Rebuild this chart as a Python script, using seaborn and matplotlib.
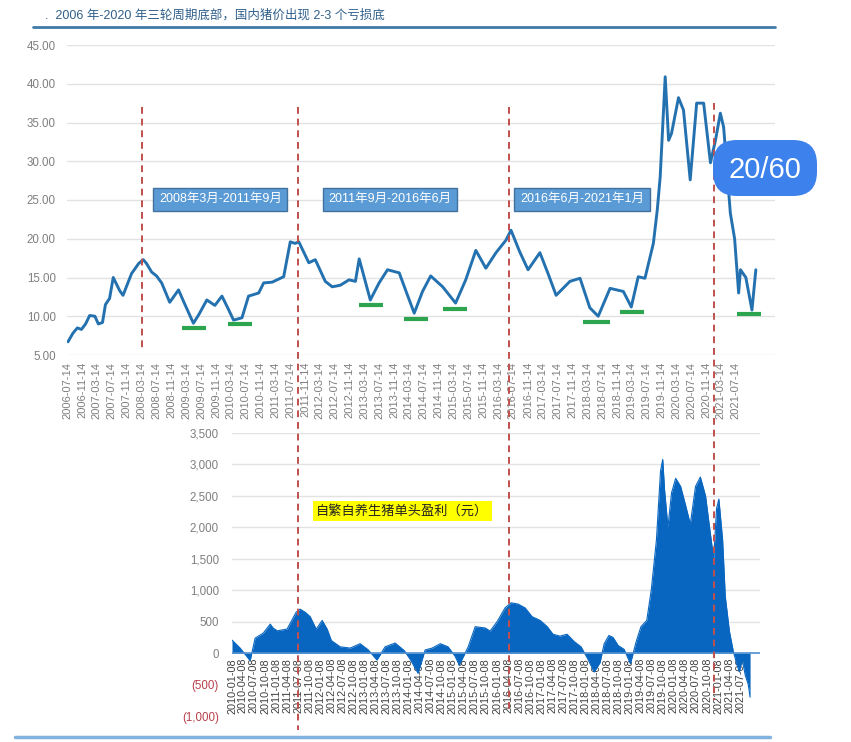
import numpy as np
import pandas as pd
import matplotlib
matplotlib.use('Agg')
import matplotlib.pyplot as plt
import matplotlib.dates as mdates
import matplotlib.transforms as mtrans
from matplotlib.lines import Line2D
from matplotlib.patches import FancyBboxPatch
import seaborn as sns

# ---------------- data ----------------
price_dates = [
    '2006-07-20', '2006-08-29', '2006-10-05', '2006-11-07', '2006-12-11', '2007-01-14',
    '2007-02-26', '2007-03-26', '2007-04-29', '2007-05-23', '2007-06-26', '2007-07-26',
    '2007-09-17', '2007-10-14', '2007-12-23', '2008-02-19', '2008-03-28', '2008-04-24',
    '2008-06-05', '2008-07-15', '2008-08-26', '2008-10-31', '2009-01-11', '2009-03-05',
    '2009-05-13', '2009-06-26', '2009-08-31', '2009-11-05', '2010-01-02', '2010-02-21',
    '2010-04-07', '2010-06-15', '2010-08-08', '2010-10-30', '2010-12-10', '2011-02-18',
    '2011-05-23', '2011-07-16', '2011-08-24', '2011-09-24', '2011-12-15', '2012-02-06',
    '2012-04-28', '2012-06-24', '2012-08-29', '2012-11-09', '2012-12-31', '2013-01-31',
    '2013-05-02', '2013-07-13', '2013-09-20', '2013-12-25', '2014-02-24', '2014-04-27',
    '2014-07-04', '2014-09-09', '2014-12-16', '2015-04-01', '2015-06-23', '2015-09-14',
    '2015-12-05', '2016-02-26', '2016-05-17', '2016-06-28', '2016-09-08', '2016-11-15',
    '2017-02-20', '2017-04-28', '2017-07-03', '2017-10-24', '2018-01-15', '2018-04-05',
    '2018-06-13', '2018-09-18', '2019-01-05', '2019-03-11', '2019-05-07', '2019-07-01',
    '2019-09-08', '2019-10-10', '2019-11-03', '2019-12-14', '2020-01-11', '2020-02-04',
    '2020-04-01', '2020-05-12', '2020-07-06', '2020-08-28', '2020-10-24', '2020-12-19',
    '2021-01-29', '2021-03-10', '2021-04-06', '2021-05-31', '2021-07-05', '2021-08-07',
    '2021-08-22', '2021-10-05', '2021-11-24', '2021-12-26']
price_values = [
    6.7, 7.8, 8.5, 8.3, 9.0, 10.1,
    10.0, 9.0, 9.2, 11.5, 12.3, 15.0,
    13.3, 12.7, 15.5, 16.8, 17.3, 16.8,
    15.7, 15.2, 14.3, 11.8, 13.4, 11.5,
    9.1, 10.2, 12.1, 11.4, 12.6, 11.0,
    9.5, 9.8, 12.6, 13.0, 14.3, 14.4,
    15.1, 19.6, 19.4, 19.6, 16.9, 17.3,
    14.5, 13.8, 14.0, 14.7, 14.5, 17.4,
    12.1, 14.3, 16.0, 15.6, 13.0, 10.4,
    13.2, 15.2, 13.8, 11.7, 14.7, 18.5,
    16.2, 18.2, 19.8, 21.1, 18.3, 16.0,
    18.2, 15.5, 12.7, 14.5, 14.9, 11.1,
    10.0, 13.6, 13.2, 11.2, 15.1, 14.9,
    19.4, 23.7, 28.0, 40.9, 32.7, 33.6,
    38.2, 36.6, 27.6, 37.5, 37.5, 29.8,
    32.7, 36.2, 34.4, 23.3, 20.0, 13.0,
    16.0, 15.0, 10.8, 16.0]

profit_dates = [
    '2010-01-08', '2010-03-16', '2010-06-07', '2010-07-18', '2010-09-23', '2010-11-20',
    '2010-12-14', '2011-01-17', '2011-04-08', '2011-06-22', '2011-07-24', '2011-09-05',
    '2011-10-16', '2011-12-05', '2012-01-23', '2012-03-05', '2012-04-08', '2012-06-20',
    '2012-09-11', '2012-12-02', '2013-02-08', '2013-04-20', '2013-06-26', '2013-09-17',
    '2013-12-02', '2014-01-20', '2014-03-26', '2014-05-23', '2014-07-20', '2014-09-26',
    '2014-11-29', '2015-01-26', '2015-03-01', '2015-05-14', '2015-07-11', '2015-10-02',
    '2015-11-11', '2016-01-08', '2016-03-14', '2016-05-02', '2016-06-29', '2016-08-26',
    '2016-10-23', '2016-12-29', '2017-02-26', '2017-04-14', '2017-06-11', '2017-08-08',
    '2017-10-08', '2017-12-02', '2018-01-23', '2018-03-20', '2018-05-08', '2018-06-11',
    '2018-07-20', '2018-08-23', '2018-10-05', '2018-11-23', '2019-01-14', '2019-03-02',
    '2019-04-11', '2019-05-29', '2019-07-05', '2019-08-17', '2019-09-20', '2019-10-08',
    '2019-10-23', '2019-11-20', '2019-12-20', '2020-01-23', '2020-03-04', '2020-04-14',
    '2020-05-23', '2020-07-05', '2020-08-14', '2020-09-26', '2020-10-29', '2020-12-02',
    '2020-12-26', '2021-01-14', '2021-02-14', '2021-03-08', '2021-04-11', '2021-05-14',
    '2021-06-08', '2021-07-02', '2021-07-26', '2021-08-20', '2021-09-14', '2021-09-29']
profit_values = [
    207, 80, -120, 238, 318, 461,
    398, 355, 382, 650, 700, 650,
    580, 380, 520, 380, 200, 100,
    80, 150, 50, -110, 100, 160,
    40, -100, -320, 50, 80, 150,
    100, -50, -190, 100, 420, 400,
    350, 500, 720, 800, 780, 720,
    580, 520, 420, 300, 270, 300,
    180, 100, -80, -300, -150, 150,
    280, 250, 120, 60, -170, 180,
    420, 520, 1000, 1800, 2900, 3080,
    2600, 2000, 2550, 2780, 2650, 2350,
    2050, 2650, 2800, 2500, 2000, 1500,
    2300, 2450, 1800, 900, 350, 20,
    -150, -300, -100, -350, -500, -700]

cycle_dates = ['2008-03-14', '2011-09-14', '2016-06-14', '2021-01-14']
cycle_labels = ['2008年3月-2011年9月', '2011年9月-2016年6月', '2016年6月-2021年1月']
cycle_label_dates = ['2009-12-20', '2013-10-10', '2018-02-01']
cycle_label_level = 25.1

bottom_starts = ['2009-02-08', '2010-02-20', '2013-01-30', '2014-01-30', '2014-12-17',
                 '2018-02-05', '2018-12-11', '2021-07-23']
bottom_ends = ['2009-08-23', '2010-09-05', '2013-08-17', '2014-08-14', '2015-07-01',
               '2018-09-20', '2019-06-26', '2022-02-06']
bottom_levels = [8.5, 9.0, 11.5, 9.7, 11.0, 9.3, 10.5, 10.3]

price_yticks = [5, 10, 15, 20, 25, 30, 35, 40, 45]
profit_yticks = [-1000, -500, 0, 500, 1000, 1500, 2000, 2500, 3000, 3500]
price_xticks = pd.date_range('2006-07-01', '2021-07-01', freq='4MS') + pd.Timedelta(days=13)
profit_xticks = pd.date_range('2010-01-01', '2021-07-01', freq='3MS') + pd.Timedelta(days=7)

title_text = '.  2006 年-2020 年三轮周期底部，国内猪价出现 2-3 个亏损底'
profit_label = '自繁自养生猪单头盈利（元）'
badge_text = '20/60'

# ---------------- style ----------------
sns.set_theme(style='white')
plt.rcParams['font.family'] = ['Liberation Sans', 'Noto Sans CJK SC', 'DejaVu Sans']
plt.rcParams['axes.unicode_minus'] = False

W, H = 851, 742
fig = plt.figure(figsize=(W / 100, H / 100), dpi=100)
fig.patch.set_facecolor('white')

ax1 = fig.add_axes([67 / W, 1 - 355 / H, (775 - 67) / W, (355 - 45) / H])
ax2 = fig.add_axes([232 / W, 1 - 716 / H, (760 - 232) / W, (716 - 433) / H])

# ---------------- upper chart: price ----------------
pdf = pd.DataFrame({'date': pd.to_datetime(price_dates), 'price': price_values})
for y in price_yticks:
    ax1.axhline(y, color='#E2E2E2', lw=1, zorder=0)
sns.lineplot(data=pdf, x='date', y='price', ax=ax1, color='#2471B0', lw=2.1, zorder=3)
ax1.hlines(bottom_levels, pd.to_datetime(bottom_starts), pd.to_datetime(bottom_ends),
           color='#2DA44E', lw=3, zorder=4)
ax1.set_ylim(5, 45)
ax1.set_xlim(pd.Timestamp('2006-07-12'), pd.Timestamp('2022-06-01'))
ax1.set_yticks(price_yticks, labels=[f'{v:.2f}' for v in price_yticks])
ax1.set_xticks(price_xticks, labels=[d.strftime('%Y-%m-%d') for d in price_xticks])
ax1.tick_params(axis='x', rotation=90, labelsize=8, colors='#7F7F7F', length=0, pad=5)
ax1.tick_params(axis='y', labelsize=8.3, colors='#7F7F7F', length=0, pad=8)
ax1.set_xlabel('')
ax1.set_ylabel('')
for s in ax1.spines.values():
    s.set_visible(False)
ax1.patch.set_alpha(0)

for d, lab in zip(cycle_label_dates, cycle_labels):
    ax1.text(pd.Timestamp(d), cycle_label_level, lab, ha='center', va='center',
             color='white', fontsize=9, zorder=6,
             bbox=dict(boxstyle='square,pad=0.45', fc='#5B9BD5', ec='#41719C', lw=1))

# ---------------- lower chart: profit ----------------
qdf = pd.DataFrame({'date': pd.to_datetime(profit_dates), 'profit': profit_values})
for y in profit_yticks:
    if y > 0:
        ax2.axhline(y, color='#E2E2E2', lw=1, zorder=0)
ax2.fill_between(qdf['date'], qdf['profit'], 0, color='#0866C0', lw=0, zorder=2)
sns.lineplot(data=qdf, x='date', y='profit', ax=ax2, color='#0866C0', lw=0.8, zorder=2)
ax2.axhline(0, color='#4F8FD0', lw=1.2, zorder=2)
ax2.set_ylim(-1000, 3500)
ax2.set_xlim(pd.Timestamp('2010-01-08'), pd.Timestamp('2021-12-20'))


def fmt(v):
    return f'({abs(v):,.0f})' if v < 0 else f'{v:,.0f}'


ax2.set_yticks(profit_yticks, labels=[fmt(v) for v in profit_yticks])
ax2.set_xticks(profit_xticks, labels=[d.strftime('%Y-%m-%d') for d in profit_xticks])
ax2.tick_params(axis='x', rotation=90, labelsize=7.8, colors='#404040', length=0, pad=3.5)
ax2.tick_params(axis='y', labelsize=8.3, length=0, pad=9.5)
for lbl, v in zip(ax2.get_yticklabels(), profit_yticks):
    lbl.set_color('#B8404A' if v < 0 else '#7F7F7F')
for s in ax2.spines.values():
    s.set_visible(False)
ax2.spines['bottom'].set_position(('data', 0))
ax2.set_xlabel('')
ax2.set_ylabel('')
ax2.patch.set_alpha(0)
for t in ax2.get_xticklabels():
    t.set_zorder(5)

ax2.text(pd.Timestamp('2013-11-15'), 2260, profit_label, ha='center', va='center',
         fontsize=9.5, color='#222222', zorder=6,
         bbox=dict(boxstyle='square,pad=0.25', fc='#FFFF00', ec='none'))

# ---------------- cycle boundary dashed lines ----------------
tr = mtrans.blended_transform_factory(ax1.transData, fig.transFigure)
line_tops = [1 - 107 / H, 1 - 107 / H, 1 - 107 / H, 1 - 103 / H]
line_bots = [1 - 350 / H, 1 - 730 / H, 1 - 712 / H, 1 - 700 / H]
for d, top, bot in zip(cycle_dates, line_tops, line_bots):
    x = mdates.date2num(pd.Timestamp(d))
    fig.add_artist(Line2D([x, x], [top, bot], transform=tr, color='#C0504D',
                          ls=(0, (3.5, 2.5)), lw=1.4, zorder=5))

# ---------------- title & decorations ----------------
fig.text(45 / W, 1 - 15 / H, title_text, fontsize=9, color='#2F5F8A',
         ha='left', va='center')
fig.add_artist(Line2D([33 / W, 775 / W], [1 - 27 / H, 1 - 27 / H],
                      transform=fig.transFigure, color='#3E7BA6', lw=2))
fig.add_artist(Line2D([15 / W, 770 / W], [1 - 737 / H, 1 - 737 / H],
                      transform=fig.transFigure, color='#7FB2DD', lw=2.5))

badge = FancyBboxPatch((713, H - 196), 104, 56,
                       boxstyle='round,pad=0,rounding_size=24',
                       transform=mtrans.IdentityTransform(),
                       fc='#3D82EC', ec='none', zorder=8)
fig.add_artist(badge)
fig.text(765 / W, 1 - 170 / H, badge_text, color='white', fontsize=21,
         ha='center', va='center', zorder=9)

fig.savefig('out.png', dpi=100)
